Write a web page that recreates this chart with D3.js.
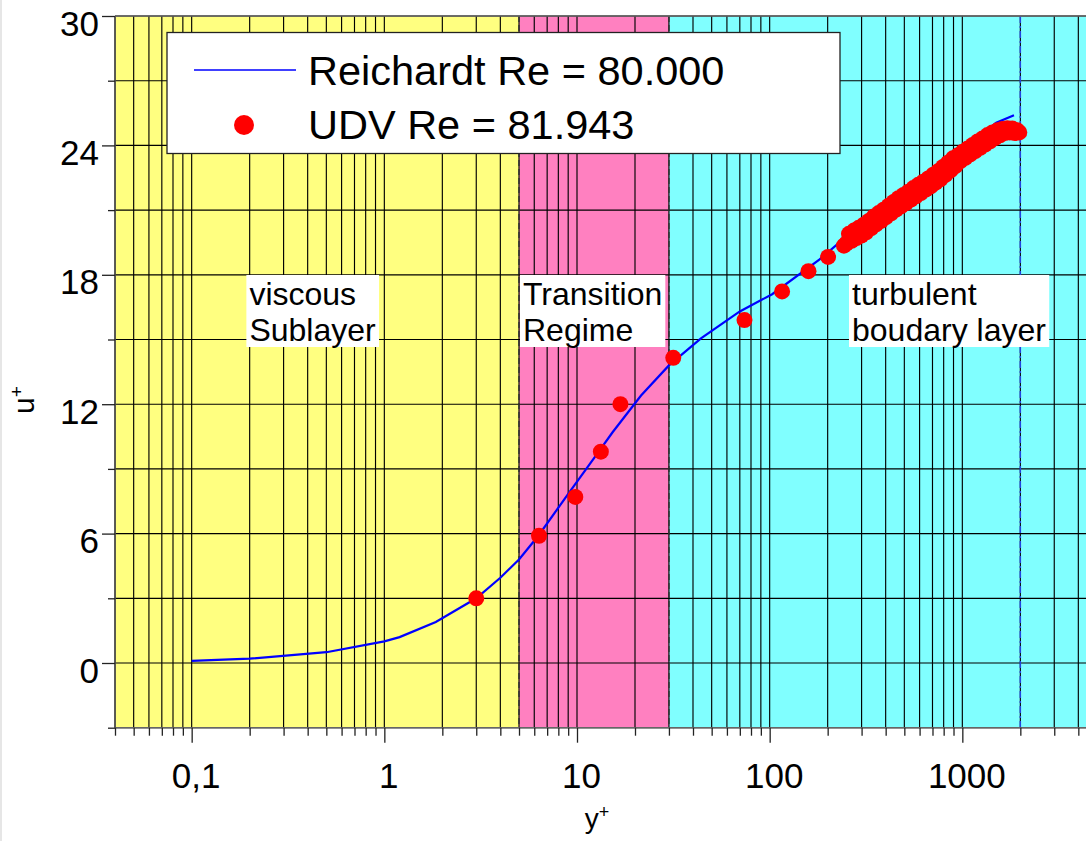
<!DOCTYPE html>
<html>
<head>
<meta charset="utf-8">
<script src="https://cdn.jsdelivr.net/npm/d3@7/dist/d3.min.js"></script>
<style>
    body { margin: 0; background: #fff; }
    svg { display: block; font-family: "Liberation Sans", Arial, sans-serif; }
</style>
</head>
<body>
<div id="scene"></div>
<script>
// Reichardt profile
const reichardtY = [0.1, 0.2, 0.5, 1, 1.2, 1.85, 3, 4, 5, 6.3, 9.1, 12.5, 15.3, 21.5, 30, 44, 70, 103, 181, 248, 759, 1045, 1500, 1854];
const reichardtU = [0.1, 0.2, 0.5, 1.0, 1.2, 1.9, 3.0, 3.95, 4.8, 5.9, 7.9, 9.6, 10.7, 12.4, 13.8, 15.05, 16.3, 17.1, 18.7, 19.75, 23.05, 23.94, 25.05, 25.4];

// UDV measurement points
const udvY = [3.0, 6.35, 9.8, 13.3, 16.8, 31.6, 74, 116, 159, 201, 243,
    250, 258, 266, 274, 282, 290, 299, 308, 317, 327, 337, 347, 357, 368, 379, 390,
    402, 414, 427, 440, 453, 466, 480, 495, 510, 525, 541, 557, 574, 591, 609, 627,
    646, 665, 685, 706, 727, 749, 771, 794, 818, 843, 868, 894, 921, 948, 977, 1006,
    1036, 1067, 1099, 1132, 1166, 1201, 1237, 1274, 1312, 1352, 1392, 1434, 1477, 1521,
    1567, 1614, 1662, 1712, 1763, 1816, 1871, 1927, 1975];
const udvU = [3.0, 5.9, 7.7, 9.8, 12.0, 14.15, 15.9, 17.23, 18.17, 18.83, 19.35,
    19.45, 19.9, 19.58, 20.05, 19.7, 20.18, 19.82, 20.32, 19.97, 20.5, 20.17, 20.7, 20.34, 20.86, 20.5, 21.02,
    20.67, 21.2, 20.85, 21.38, 21.02, 21.55, 21.17, 21.7, 21.32, 21.85, 21.49, 22.02, 21.64, 22.17, 21.79, 22.32,
    21.95, 22.47, 22.1, 22.64, 22.27, 22.8, 22.44, 23.0, 22.64, 23.2, 22.84, 23.4, 23.04, 23.54, 23.27, 23.71,
    23.42, 23.86, 23.58, 24.02, 23.74, 24.18, 23.89, 24.32, 24.04, 24.48, 24.19, 24.6, 24.34, 24.7,
    24.47, 24.76, 24.57, 24.8, 24.6, 24.78, 24.57, 24.7, 24.6];

// axes
const xMajorTicks = [0.1, 1, 10, 100, 1000];
const xTickLabels = ["0,1", "1", "10", "100", "1000"];
const yMajorTicks = [0, 6, 12, 18, 24, 30];
const yMinorTicks = [-3, 3, 9, 15, 21, 27];

// flow regimes
const regimeEdges = [0.04, 5, 30, 5000];
const regimeColors = ["#ffff80", "#ff80c0", "#80ffff"];
const regimeLabels = [["viscous", "Sublayer"], ["Transition", "Regime"], ["turbulent", "boudary layer"]];
const regimeLabelAt = [[0.19, 16.6], [5.0, 16.6], [255, 16.6]];
const deltaPlus = 2000;

const legendItems = ["Reichardt Re = 80.000", "UDV Re = 81.943"];

const svg = d3.select("#scene")
    .append("svg")
    .attr("width", 1086)
    .attr("height", 841);

const x = d3.scaleLog().domain([0.04, 5000]).range([115, 1097]);
const y = d3.scaleLinear().domain([-3, 30]).range([727.7, 16]);

// thin border on the left of the picture
svg.append("line")
    .attr("x1", 1).attr("x2", 1).attr("y1", 0).attr("y2", 841)
    .attr("stroke", "#e6e6e6").attr("stroke-width", 2);

// background bands
svg.selectAll("rect.band")
    .data(regimeColors)
    .enter().append("rect")
    .attr("class", "band")
    .attr("x", (d, i) => x(regimeEdges[i]))
    .attr("width", (d, i) => x(regimeEdges[i + 1]) - x(regimeEdges[i]))
    .attr("y", y(30))
    .attr("height", y(-3) - y(30))
    .attr("fill", d => d);

// all log ticks 1..9 per decade
const xAllTicks = [];
[0.01, 0.1, 1, 10, 100, 1000].forEach(dec => {
    for (let k = 1; k <= 9; k++) {
        const v = +(k * dec).toPrecision(3);
        if (v >= 0.04 && v <= 5000) xAllTicks.push(v);
    }
});

const grid = svg.append("g");
grid.selectAll("line.vg")
    .data(xAllTicks)
    .enter().append("line")
    .attr("x1", d => x(d)).attr("x2", d => x(d))
    .attr("y1", y(30)).attr("y2", y(-3))
    .attr("stroke", "#000")
    .attr("stroke-width", 1.15);

grid.selectAll("line.hg")
    .data(d3.range(-3, 31, 3))
    .enter().append("line")
    .attr("x1", x(0.04)).attr("x2", 1086)
    .attr("y1", d => y(d)).attr("y2", d => y(d))
    .attr("stroke", "#000")
    .attr("stroke-width", 1.15);

// regime boundaries
svg.selectAll("line.edge")
    .data([5, 30])
    .enter().append("line")
    .attr("x1", d => x(d)).attr("x2", d => x(d))
    .attr("y1", y(30)).attr("y2", y(-3))
    .attr("stroke", "#333")
    .attr("stroke-width", 1.5)
    .attr("stroke-dasharray", "6,3");

svg.append("line")
    .attr("x1", x(deltaPlus)).attr("x2", x(deltaPlus))
    .attr("y1", y(30)).attr("y2", y(-3))
    .attr("stroke", "#2244dd")
    .attr("stroke-width", 1.5)
    .attr("stroke-dasharray", "7,3,2,3");

// frame
svg.append("line")
    .attr("x1", x(0.04)).attr("x2", 1086).attr("y1", y(30)).attr("y2", y(30))
    .attr("stroke", "#666").attr("stroke-width", 1.5);
svg.append("line")
    .attr("x1", x(0.04)).attr("x2", 1086).attr("y1", y(-3)).attr("y2", y(-3))
    .attr("stroke", "#666").attr("stroke-width", 1.5);
svg.append("line")
    .attr("x1", x(0.04)).attr("x2", x(0.04)).attr("y1", y(30)).attr("y2", y(-3))
    .attr("stroke", "#555").attr("stroke-width", 1.5);

// axes
svg.append("g")
    .attr("transform", `translate(0,${y(-3)})`)
    .call(d3.axisBottom(x).tickValues(xAllTicks.filter(v => !xMajorTicks.includes(v))).tickSize(8).tickFormat(""))
    .call(g => g.select(".domain").remove());

svg.append("g")
    .attr("transform", `translate(0,${y(-3)})`)
    .call(d3.axisBottom(x).tickValues(xMajorTicks).tickSize(15)
        .tickFormat((d, i) => xTickLabels[i]))
    .call(g => g.select(".domain").remove())
    .call(g => g.selectAll("text")
        .attr("y", 60).attr("dy", 0).attr("dx", 4)
        .attr("font-size", 35).attr("fill", "#000")
        .attr("font-family", "Liberation Sans, Arial, sans-serif"));

svg.append("g")
    .attr("transform", `translate(${x(0.04)},0)`)
    .call(d3.axisLeft(y).tickValues(yMinorTicks).tickSize(7).tickFormat(""))
    .call(g => g.select(".domain").remove());

svg.append("g")
    .attr("transform", `translate(${x(0.04)},0)`)
    .call(d3.axisLeft(y).tickValues(yMajorTicks).tickSize(13))
    .call(g => g.select(".domain").remove())
    .call(g => g.selectAll("text")
        .attr("x", -16).attr("dy", 19)
        .attr("font-size", 35).attr("fill", "#000")
        .attr("font-family", "Liberation Sans, Arial, sans-serif"));

svg.selectAll(".tick line").attr("stroke", "#222").attr("stroke-width", 1.3);

// axis titles
const yTitle = svg.append("text")
    .attr("transform", "translate(34,400) rotate(-90)")
    .attr("text-anchor", "middle")
    .attr("font-size", 30);
yTitle.append("tspan").text("u");
yTitle.append("tspan").attr("font-size", 19).attr("dy", -11).text("+");

const xTitle = svg.append("text")
    .attr("x", 597).attr("y", 828)
    .attr("text-anchor", "middle")
    .attr("font-size", 28);
xTitle.append("tspan").text("y");
xTitle.append("tspan").attr("font-size", 18).attr("dy", -10).text("+");

// regime labels on white boxes
regimeLabels.forEach((lines, i) => {
    const g = svg.append("g");
    const t = g.append("text")
        .attr("font-size", 32)
        .attr("fill", "#000");
    lines.forEach((s, j) => {
        t.append("tspan")
            .attr("x", x(regimeLabelAt[i][0]) + 4)
            .attr("y", y(regimeLabelAt[i][1]) + j * 36)
            .text(s);
    });
    const b = t.node().getBBox();
    g.insert("rect", "text")
        .attr("x", b.x - 3).attr("y", b.y - 1)
        .attr("width", b.width + 6).attr("height", b.height)
        .attr("fill", "#fff");
});

// Reichardt line
const line = d3.line()
    .x(d => x(d[0]))
    .y(d => y(d[1]));

svg.append("path")
    .datum(reichardtY.map((v, i) => [v, reichardtU[i]]))
    .attr("fill", "none")
    .attr("stroke", "#0000ff")
    .attr("stroke-width", 2.2)
    .attr("d", line);

// UDV points
svg.selectAll("circle.udv")
    .data(udvY.map((v, i) => [v, udvU[i]]))
    .enter().append("circle")
    .attr("class", "udv")
    .attr("cx", d => x(d[0]))
    .attr("cy", d => y(d[1]))
    .attr("r", 8)
    .attr("fill", "#ff0000");

// legend
const legend = svg.append("g");
legend.append("rect")
    .attr("x", 167).attr("y", 32.5)
    .attr("width", 673).attr("height", 121)
    .attr("fill", "#fff")
    .attr("stroke", "#222")
    .attr("stroke-width", 1.3);
legend.append("line")
    .attr("x1", 194).attr("x2", 296).attr("y1", 70).attr("y2", 70)
    .attr("stroke", "#0000ff").attr("stroke-width", 1.3);
legend.append("circle")
    .attr("cx", 244).attr("cy", 125).attr("r", 10)
    .attr("fill", "#ff0000");
legend.selectAll("text")
    .data(legendItems)
    .enter().append("text")
    .attr("x", 308)
    .attr("y", (d, i) => 85 + i * 54)
    .attr("font-size", 41.5)
    .text(d => d);
</script>
</body>
</html>
